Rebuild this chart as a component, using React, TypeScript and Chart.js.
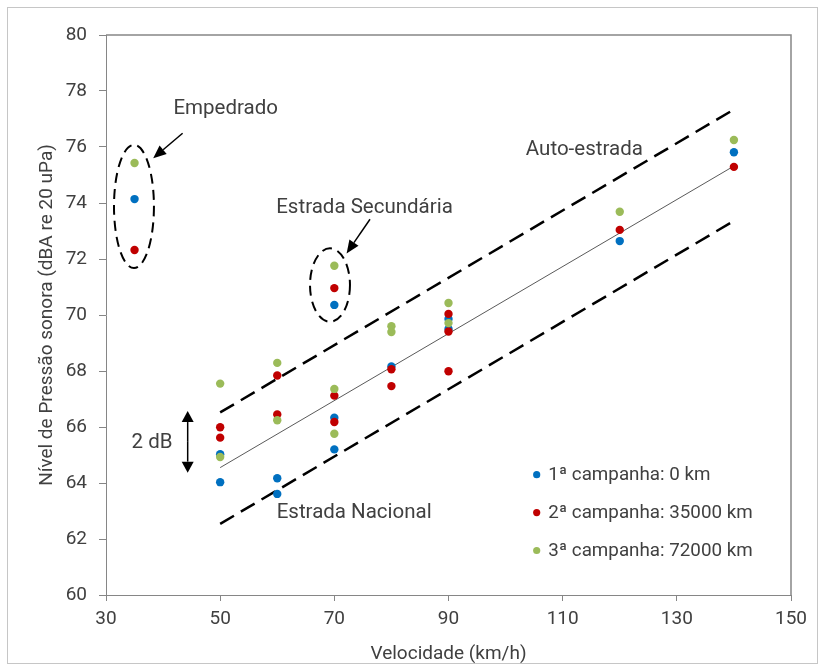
import React, { useEffect, useRef } from "react";
import { Chart, registerables } from "chart.js";

Chart.register(...registerables);

// ---- data ----
const seriesNames = ["1ª campanha: 0 km", "2ª campanha: 35000 km", "3ª campanha: 72000 km"];
const seriesColors = ["#0070C0", "#C00000", "#9BBB59"];

const blueSpeed = [35, 50, 50, 60, 60, 70, 70, 70, 80, 90, 90, 120, 140];
const blueLevel = [74.14, 65.03, 64.03, 64.17, 63.61, 70.36, 66.33, 65.2, 68.16, 69.86, 69.5, 72.64, 75.81];

const redSpeed = [35, 50, 50, 60, 60, 70, 70, 70, 80, 80, 90, 90, 90, 120, 140];
const redLevel = [72.32, 65.99, 65.62, 67.84, 66.45, 70.96, 67.12, 66.18, 68.06, 67.46, 70.04, 69.41, 67.99, 73.04, 75.29];

const greenSpeed = [35, 50, 50, 60, 60, 70, 70, 70, 80, 80, 90, 90, 120, 140];
const greenLevel = [75.43, 67.55, 64.93, 68.29, 66.24, 71.76, 67.36, 65.76, 69.6, 69.39, 70.43, 69.71, 73.69, 76.25];

const fitSpeed = [50, 140];
const fitLevel = [64.55, 75.32];
const upperLevel = [66.52, 77.34];
const lowerLevel = [62.54, 73.36];

const xMin = 30, xMax = 150, xStep = 20;
const yMin = 60, yMax = 80, yStep = 2;

const xTitle = "Velocidade (km/h)";
const yTitle = "Nível de Pressão sonora (dBA re 20 uPa)";

// annotation texts and anchors (data units)
const noteTexts = ["Empedrado", "Estrada Secundária", "Auto-estrada", "Estrada Nacional", "2 dB"];
const noteX = [50.97, 75.29, 113.8, 73.48, 38.06];
const noteY = [77.35, 73.83, 75.89, 62.93, 65.43];

const zip = (xs: number[], ys: number[]) => xs.map((x, i) => ({ x, y: ys[i] }));

const FONT = "Roboto, 'Open Sans', sans-serif";
const TEXT = "#404040";
const AXIS = "#868686";

function drawArrow(ctx: CanvasRenderingContext2D, x1: number, y1: number, x2: number, y2: number, head: number, w: number) {
  const ang = Math.atan2(y2 - y1, x2 - x1);
  const bx = x2 - head * Math.cos(ang);
  const by = y2 - head * Math.sin(ang);
  ctx.beginPath();
  ctx.moveTo(x1, y1);
  ctx.lineTo(bx, by);
  ctx.stroke();
  ctx.beginPath();
  ctx.moveTo(x2, y2);
  ctx.lineTo(bx + (w / 2) * Math.sin(ang), by - (w / 2) * Math.cos(ang));
  ctx.lineTo(bx - (w / 2) * Math.sin(ang), by + (w / 2) * Math.cos(ang));
  ctx.closePath();
  ctx.fill();
}

const decorPlugin = {
  id: "decor",
  beforeDraw(chart: any) {
    const { ctx } = chart;
    ctx.save();
    ctx.fillStyle = "#ffffff";
    ctx.fillRect(0, 0, chart.width, chart.height);
    ctx.strokeStyle = "#c6c6c6";
    ctx.lineWidth = 1;
    ctx.strokeRect(7.5, 7.5, 810, 656);
    ctx.restore();
  },
  afterDraw(chart: any) {
    const { ctx, chartArea } = chart;
    const xs = chart.scales.x;
    const ys = chart.scales.y;
    const px = (v: number) => xs.getPixelForValue(v);
    const py = (v: number) => ys.getPixelForValue(v);
    ctx.save();

    // plot area top/right border
    ctx.strokeStyle = AXIS;
    ctx.lineWidth = 1.5;
    ctx.beginPath();
    ctx.moveTo(chartArea.left, chartArea.top);
    ctx.lineTo(chartArea.right, chartArea.top);
    ctx.lineTo(chartArea.right, chartArea.bottom);
    ctx.stroke();

    // dashed ellipses
    ctx.strokeStyle = "#000";
    ctx.lineWidth = 2;
    ctx.setLineDash([10, 6]);
    const ellipses = [
      { cx: 34.9, cy: 73.875, rx: 3.5, ry: 2.2 },
      { cx: 69.24, cy: 71.07, rx: 3.5, ry: 1.31 },
    ];
    ellipses.forEach((e) => {
      const cx = px(e.cx), cy = py(e.cy);
      ctx.beginPath();
      ctx.ellipse(cx, cy, Math.abs(px(e.cx + e.rx) - cx), Math.abs(py(e.cy + e.ry) - cy), 0, 0, Math.PI * 2);
      ctx.stroke();
    });
    ctx.setLineDash([]);

    // arrows
    ctx.fillStyle = "#000";
    ctx.lineWidth = 1.5;
    drawArrow(ctx, px(43.42), py(76.49), px(38.27), py(75.6), 13, 11);
    drawArrow(ctx, px(76.25), py(73.42), px(72.15), py(72.2), 13, 11);
    const mid = (66.57 + 64.37) / 2;
    drawArrow(ctx, px(44.31), py(mid), px(44.31), py(66.57), 11, 12);
    drawArrow(ctx, px(44.31), py(mid), px(44.31), py(64.37), 11, 12);

    // notes
    ctx.fillStyle = TEXT;
    ctx.font = `20.5px ${FONT}`;
    ctx.textAlign = "center";
    ctx.textBaseline = "middle";
    noteTexts.forEach((t, i) => ctx.fillText(t, px(noteX[i]), py(noteY[i])));

    // legend
    ctx.font = `18.8px ${FONT}`;
    ctx.textAlign = "left";
    const lx = chartArea.left + 430.7;
    const ly = chartArea.top + 439.7;
    seriesNames.forEach((name, i) => {
      const y = ly + i * 37.9;
      ctx.fillStyle = seriesColors[i];
      ctx.beginPath();
      ctx.arc(lx, y, 3.6, 0, Math.PI * 2);
      ctx.fill();
      ctx.fillStyle = TEXT;
      ctx.fillText(name, lx + 11.5, y + 0.5);
    });

    ctx.restore();
  },
};

export default function App() {
  const ref = useRef<HTMLCanvasElement | null>(null);

  useEffect(() => {
    if (!ref.current) return;
    const pointDs = (label: string, xs: number[], ys: number[], color: string, order: number) => ({
      type: "scatter" as const,
      label,
      data: zip(xs, ys),
      backgroundColor: color,
      borderColor: color,
      borderWidth: 0,
      pointRadius: 4.2,
      pointHoverRadius: 4.2,
      showLine: false,
      order,
    });
    const lineDs = (label: string, ys: number[], color: string, width: number, dash: number[]) => ({
      type: "scatter" as const,
      label,
      data: zip(fitSpeed, ys),
      borderColor: color,
      backgroundColor: color,
      borderWidth: width,
      borderDash: dash,
      pointRadius: 0,
      showLine: true,
      order: 10,
    });

    const chart = new Chart(ref.current, {
      type: "scatter",
      data: {
        datasets: [
          lineDs("fit", fitLevel, "#5a5a5a", 1, []),
          lineDs("upper", upperLevel, "#000000", 2.5, [16, 8]),
          lineDs("lower", lowerLevel, "#000000", 2.5, [16, 8]),
          pointDs(seriesNames[0], blueSpeed, blueLevel, seriesColors[0], 3),
          pointDs(seriesNames[1], redSpeed, redLevel, seriesColors[1], 2),
          pointDs(seriesNames[2], greenSpeed, greenLevel, seriesColors[2], 1),
        ],
      },
      options: {
        animation: false,
        responsive: false,
        devicePixelRatio: 1,
        layout: { padding: { left: 0, top: 35, right: 32, bottom: 0 } },
        plugins: {
          legend: { display: false },
          tooltip: { enabled: false },
          title: { display: false },
        },
        scales: {
          x: {
            type: "linear",
            min: xMin,
            max: xMax,
            ticks: {
              stepSize: xStep,
              color: TEXT,
              font: { family: FONT, size: 19 },
              padding: 7,
            },
            grid: { drawOnChartArea: false, drawTicks: true, tickLength: 6, color: AXIS },
            border: { display: true, color: AXIS, width: 1 },
            title: {
              display: true,
              text: xTitle,
              color: TEXT,
              font: { family: FONT, size: 19 },
              padding: { top: 0, bottom: 5 },
            },
            afterFit: (s: any) => {
              s.height = 76;
            },
          },
          y: {
            type: "linear",
            min: yMin,
            max: yMax,
            ticks: {
              stepSize: yStep,
              color: TEXT,
              font: { family: FONT, size: 19 },
              padding: 12,
            },
            grid: { drawOnChartArea: false, drawTicks: true, tickLength: 7, color: AXIS },
            border: { display: true, color: AXIS, width: 1 },
            title: {
              display: true,
              text: yTitle,
              color: TEXT,
              font: { family: FONT, size: 19 },
              padding: { top: 36, bottom: 0 },
            },
            afterFit: (s: any) => {
              s.width = 106;
            },
          },
        },
      },
      plugins: [decorPlugin],
    });
    return () => chart.destroy();
  }, []);

  return (
    <div style={{ position: "absolute", left: 0, top: 0, width: 823, height: 671 }}>
      <canvas ref={ref} width={823} height={671} />
    </div>
  );
}
